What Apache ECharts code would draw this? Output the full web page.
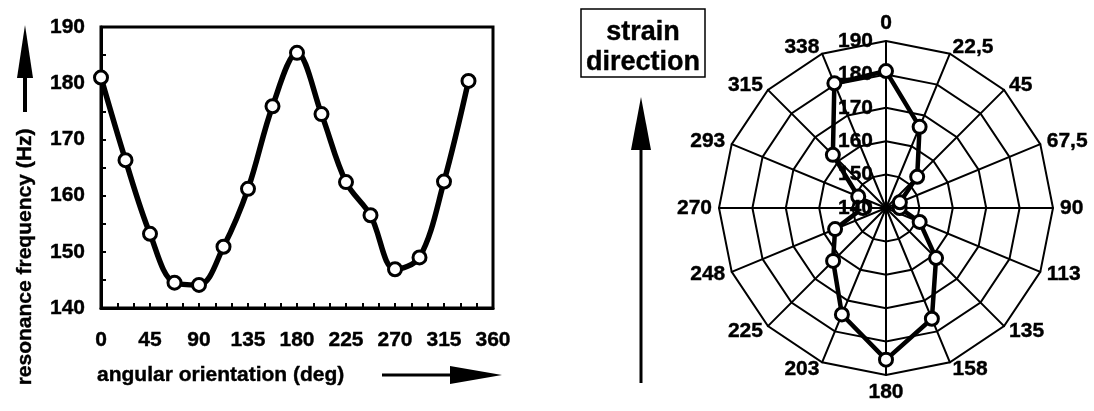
<!DOCTYPE html>
<html><head><meta charset="utf-8">
<script src="https://cdn.jsdelivr.net/npm/echarts@6/dist/echarts.min.js"></script>
<style>html,body{margin:0;padding:0;background:#fff}#c{width:1094px;height:411px}</style>
</head><body><div id="c"></div>
<script>
// ---- data ----
const angles = [0, 22.5, 45, 67.5, 90, 112.5, 135, 157.5, 180, 202.5, 225, 247.5, 270, 292.5, 315, 337.5];
const freq = [181.0, 166.3, 153.2, 144.5, 144.1, 150.9, 161.2, 175.9, 185.4, 174.5, 162.4, 156.5, 146.9, 149.0, 162.5, 180.4];
const angleLabels = ['0', '22,5', '45', '67,5', '90', '113', '135', '158', '180', '203', '225', '248', '270', '293', '315', '338'];
const xTickLabels = [0, 45, 90, 135, 180, 225, 270, 315, 360];
const yTickLabels = [140, 150, 160, 170, 180, 190];
const radiusTickLabels = [140, 150, 160, 170, 180, 190];
const yTitle = 'resonance frequency (Hz)';
const xTitle = 'angular orientation (deg)';
const boxLines = ['strain', 'direction'];

// ---- build ----
const FONT = 'Liberation Sans, Arial, sans-serif';
const black = '#000';
const lblStyle = {color: black, fontFamily: FONT, fontWeight: 'bold', fontSize: 21, textBorderColor: black, textBorderWidth: 0.4};
const n = angles.length;
// radar places indicators counter-clockwise; reverse to get clockwise order
const order = angles.map((_, i) => (n - i) % n);
const rMin = radiusTickLabels[0], rMax = radiusTickLabels[radiusTickLabels.length - 1];
const indicators = order.map(i => ({name: angleLabels[i], min: rMin, max: rMax}));
const radarValues = order.map(i => freq[i]);
const lineData = angles.map((a, i) => [a, freq[i]]);

function txt(text, x, y, size, align, rotation) {
  return {
    type: 'text', x: x, y: y, rotation: rotation || 0,
    style: {text: text, align: align || 'center', verticalAlign: 'middle', fill: black, stroke: black, lineWidth: 0.4, font: 'bold ' + size + 'px ' + FONT}
  };
}

const chart = echarts.init(document.getElementById('c'), null, {renderer: 'canvas'});
chart.setOption({
  animation: false,
  backgroundColor: '#fff',
  grid: {left: 101, top: 27, width: 392, height: 281, show: true, borderColor: black, borderWidth: 3, backgroundColor: 'transparent'},
  xAxis: {
    type: 'value', min: xTickLabels[0], max: xTickLabels[xTickLabels.length - 1], interval: 45,
    axisLine: {lineStyle: {color: black, width: 3}},
    axisTick: {inside: true, length: 5, lineStyle: {color: black, width: 2}},
    minorTick: {show: true, splitNumber: 3, length: 5, lineStyle: {color: black, width: 2}},
    splitLine: {show: false},
    axisLabel: Object.assign({margin: 22, formatter: v => xTickLabels.includes(v) ? String(v) : ''}, lblStyle)
  },
  yAxis: {
    type: 'value', min: yTickLabels[0], max: yTickLabels[yTickLabels.length - 1], interval: 10,
    axisLine: {lineStyle: {color: black, width: 3}},
    axisTick: {inside: true, length: 5, lineStyle: {color: black, width: 2}},
    minorTick: {show: true, splitNumber: 2, length: 5, lineStyle: {color: black, width: 2}},
    splitLine: {show: false},
    axisLabel: Object.assign({margin: 16}, lblStyle)
  },
  polar: {center: [886, 208], radius: 167},
  angleAxis: {type: 'value', min: 0, max: 360, startAngle: 90, show: false},
  radiusAxis: {
    type: 'value', min: rMin, max: rMax, interval: 10,
    axisLine: {show: false}, axisTick: {show: false}, splitLine: {show: false},
    axisLabel: Object.assign({margin: 13}, lblStyle), z: 10
  },
  radar: {
    center: [886, 208], radius: 167, startAngle: 90, splitNumber: 5, shape: 'polygon',
    indicator: indicators,
    axisName: lblStyle,
    nameGap: 7,
    splitLine: {lineStyle: {color: black, width: 2}},
    splitArea: {show: false},
    axisLine: {lineStyle: {color: black, width: 2}},
    axisTick: {show: false}, axisLabel: {show: false}
  },
  series: [
    {
      type: 'line', data: lineData, smooth: 0.35, clip: false, z: 5,
      lineStyle: {color: black, width: 5.5},
      symbol: 'circle', symbolSize: 13,
      itemStyle: {color: '#fff', borderColor: black, borderWidth: 3}
    },
    {
      type: 'radar', z: 5,
      data: [{value: radarValues}],
      lineStyle: {color: black, width: 4.5},
      symbol: 'circle', symbolSize: 13,
      itemStyle: {color: '#fff', borderColor: black, borderWidth: 3}
    }
  ],
  graphic: [
    // left vertical title and arrow
    txt(yTitle, 25, 257, 21, 'center', Math.PI / 2),
    {type: 'line', shape: {x1: 25, y1: 112, x2: 25, y2: 70}, style: {stroke: black, lineWidth: 4}},
    {type: 'polygon', shape: {points: [[25, 25], [17, 78], [33, 78]]}, style: {fill: black}},
    // bottom title and arrow
    txt(xTitle, 97, 375, 21, 'left'),
    {type: 'line', shape: {x1: 382, y1: 375, x2: 455, y2: 375}, style: {stroke: black, lineWidth: 3}},
    {type: 'polygon', shape: {points: [[502, 375], [450, 366], [450, 384]]}, style: {fill: black}},
    // strain direction box and arrow
    {type: 'rect', shape: {x: 581, y: 9, width: 124, height: 68}, style: {fill: 'none', stroke: black, lineWidth: 1.5}},
    txt(boxLines[0], 643, 33, 27, 'center'),
    txt(boxLines[1], 643, 63, 27, 'center'),
    {type: 'line', shape: {x1: 641, y1: 383, x2: 641, y2: 140}, style: {stroke: black, lineWidth: 3}},
    {type: 'polygon', shape: {points: [[641, 97], [631, 150], [651, 150]]}, style: {fill: black}}
  ]
});
</script>
</body></html>
